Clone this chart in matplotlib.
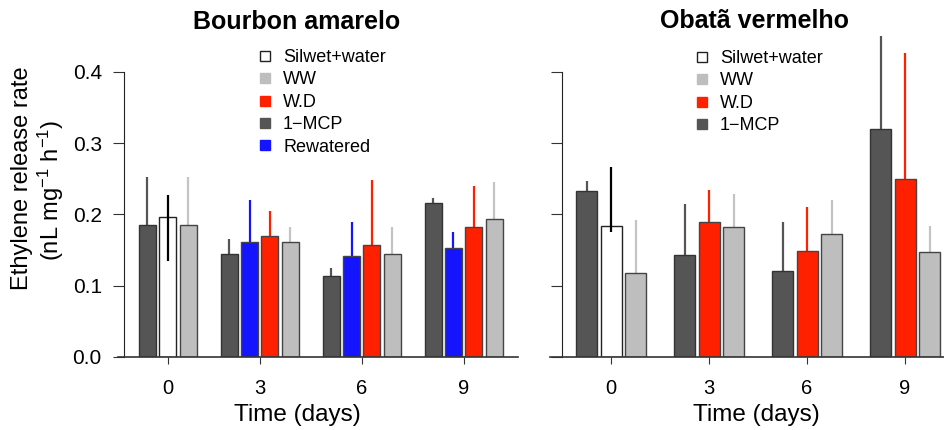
import numpy as np
import matplotlib
matplotlib.use('Agg')
import matplotlib.pyplot as plt
from matplotlib.lines import Line2D

plt.rcParams['font.family'] = ['Liberation Sans', 'DejaVu Sans']
plt.rcParams['mathtext.fontset'] = 'custom'
plt.rcParams['mathtext.rm'] = 'Liberation Sans'
plt.rcParams['mathtext.it'] = 'Liberation Sans:italic'

nan = np.nan
days = ['0', '3', '6', '9']

# Bourbon amarelo
ba_mcp = [0.185, 0.145, 0.114, 0.216]
ba_mcp_err = [0.068, 0.021, 0.011, 0.007]
ba_silwet = [0.196, nan, nan, nan]
ba_silwet_lo = [0.061, nan, nan, nan]
ba_silwet_hi = [0.031, nan, nan, nan]
ba_rew = [nan, 0.162, 0.142, 0.153]
ba_rew_err = [nan, 0.058, 0.047, 0.023]
ba_wd = [nan, 0.170, 0.157, 0.183]
ba_wd_err = [nan, 0.035, 0.091, 0.057]
ba_ww = [0.185, 0.161, 0.145, 0.193]
ba_ww_err = [0.068, 0.021, 0.037, 0.052]

# Obatã vermelho
ov_mcp = [0.233, 0.143, 0.121, 0.320]
ov_mcp_err = [0.014, 0.072, 0.068, 0.140]
ov_silwet = [0.184, nan, nan, nan]
ov_silwet_lo = [0.009, nan, nan, nan]
ov_silwet_hi = [0.083, nan, nan, nan]
ov_wd = [nan, 0.189, 0.149, 0.250]
ov_wd_err = [nan, 0.046, 0.061, 0.176]
ov_ww = [0.118, 0.182, 0.172, 0.148]
ov_ww_err = [0.074, 0.047, 0.049, 0.036]

# fill, edge, error colour
styles = {
    'Silwet+water': ('white', '#222222', 'black'),
    'WW': ('#bebebe', '#444444', '#c4c4c4'),
    'W.D': ('#ff2000', '#444444', '#ff2000'),
    '1\u2212MCP': ('#555555', '#333333', '#555555'),
    'Rewatered': ('#1414ff', '#444444', '#1414ff'),
}

W, H = 945, 430
fig = plt.figure(figsize=(W / 100, H / 100), dpi=100)
ytop = 0.4505


def px_axes(x0, x1, y0, y1):
    return fig.add_axes([x0 / W, 1 - y1 / H, (x1 - x0) / W, (y1 - y0) / H])


def layout(series, offset, space_in, space_out):
    pos = [[nan] * len(days) for _ in series]
    centers = []
    x = offset
    for g in range(len(days)):
        start = x
        first = True
        for s, vals in enumerate(series):
            if np.isnan(vals[g]):
                continue
            if not first:
                x += space_in
            pos[s][g] = x
            x += 1
            first = False
        centers.append((start + x) / 2)
        x += space_out
    return pos, centers


def draw_panel(ax, series, xmax, offset, space_in, space_out, xline_left):
    vals = [s[1] for s in series]
    pos, centers = layout(vals, offset, space_in, space_out)
    for (name, v, lo, hi), p in zip(series, pos):
        fc, ec, errc = styles[name]
        keep = [i for i in range(len(days)) if not np.isnan(v[i])]
        xs = np.array([p[i] for i in keep])
        hs = np.array([v[i] for i in keep])
        los = np.array([lo[i] for i in keep])
        his = np.array([hi[i] for i in keep])
        ax.bar(xs, hs, width=1, align='edge', color=fc, edgecolor=ec,
               linewidth=1.0, zorder=2)
        z = 3 if name == 'Silwet+water' else 1
        ax.vlines(xs + 0.5, hs - los, hs + his, color=errc, linewidth=1.6,
                  zorder=z)
    ax.set_xlim(0, xmax)
    ax.set_ylim(0, ytop)
    for sp in ['top', 'right', 'bottom']:
        ax.spines[sp].set_visible(False)
    ax.spines['left'].set_bounds(0, 0.4)
    ax.spines['left'].set_color('#222222')
    ax.axhline(0, xmin=xline_left, xmax=1, color='#333333', linewidth=1.2,
               clip_on=False, zorder=4)
    ax.set_xticks(centers)
    ax.set_xticklabels(days)
    ax.set_yticks([0.0, 0.1, 0.2, 0.3, 0.4])
    ax.tick_params(axis='x', length=5, width=0.8, pad=11, labelsize=14.5,
                   color='#333333')
    ax.tick_params(axis='y', length=8, width=0.8, pad=8, labelsize=15,
                   color='#333333')


ax1 = px_axes(124, 518, 36, 357)
draw_panel(ax1, [
    ('1\u2212MCP', ba_mcp, ba_mcp_err, ba_mcp_err),
    ('Silwet+water', ba_silwet, ba_silwet_lo, ba_silwet_hi),
    ('Rewatered', ba_rew, ba_rew_err, ba_rew_err),
    ('W.D', ba_wd, ba_wd_err, ba_wd_err),
    ('WW', ba_ww, ba_ww_err, ba_ww_err),
], 394 / 17, 15 / 17, 0.2, 1.4, -6 / 394)
ax1.set_yticklabels(['0.0', '0.1', '0.2', '0.3', '0.4'])

ax2 = px_axes(562, 945, 36, 357)
draw_panel(ax2, [
    ('1\u2212MCP', ov_mcp, ov_mcp_err, ov_mcp_err),
    ('Silwet+water', ov_silwet, ov_silwet_lo, ov_silwet_hi),
    ('W.D', ov_wd, ov_wd_err, ov_wd_err),
    ('WW', ov_ww, ov_ww_err, ov_ww_err),
], 383 / 21, 14 / 21, 0.167, 1.333, -12 / 383)
ax2.set_yticklabels([])


def legend(ax, labels, x, y):
    handles = []
    for lab in labels:
        fc, ec, _ = styles[lab]
        mec = '#222222' if lab == 'Silwet+water' else fc
        handles.append(Line2D([], [], linestyle='none', marker='s',
                              markersize=7, markerfacecolor=fc,
                              markeredgecolor=mec, markeredgewidth=1.0))
    ax.legend(handles, labels, loc='upper left',
              bbox_to_anchor=(x / W, 1 - y / H),
              bbox_transform=fig.transFigure, frameon=False, fontsize=13,
              handlelength=1.0, handletextpad=0.5, labelspacing=0.3,
              borderpad=0, borderaxespad=0)


legend(ax1, ['Silwet+water', 'WW', 'W.D', '1\u2212MCP', 'Rewatered'], 256, 49)
legend(ax2, ['Silwet+water', 'WW', 'W.D', '1\u2212MCP'], 693, 50)

# titles and axis labels
fig.text(297 / W, 1 - 29 / H, 'Bourbon amarelo', ha='center', va='baseline',
         fontsize=18, fontweight='bold')
fig.text(755 / W, 1 - 28 / H, 'Obatã vermelho', ha='center', va='baseline',
         fontsize=18, fontweight='bold')
fig.text(297 / W, 1 - 421 / H, 'Time (days)', ha='center', va='baseline',
         fontsize=17.5)
fig.text(756 / W, 1 - 421 / H, 'Time (days)', ha='center', va='baseline',
         fontsize=17.5)
fig.text(22 / W, 1 - 178 / H, 'Ethylene release rate', rotation=90,
         ha='center', va='center', fontsize=17)
fig.text(51 / W, 1 - 190 / H, r'(nL mg$^{-1}$ h$^{-1}$)', rotation=90,
         ha='center', va='center', fontsize=17)

fig.savefig('out.png', dpi=100)
